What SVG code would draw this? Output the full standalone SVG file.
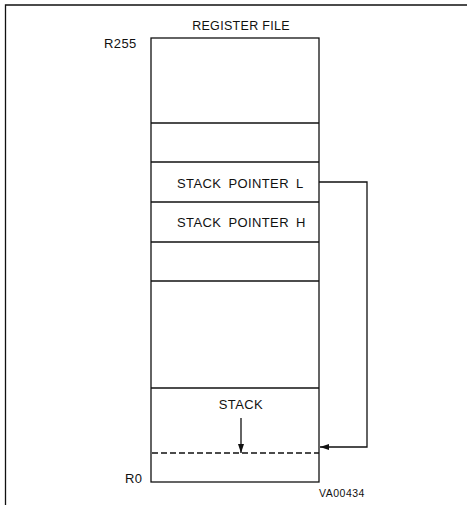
<svg xmlns="http://www.w3.org/2000/svg" width="467" height="505" viewBox="0 0 467 505">
<style>
text{font-family:"Liberation Sans",Arial,sans-serif;fill:#111;}
.lbl{font-size:13px;letter-spacing:0.4px;}
.sp{word-spacing:3px;}
.ln{stroke:#111;stroke-width:1.3;fill:none;}
</style>
<defs>
<marker id="ah" markerWidth="9" markerHeight="6" refX="9" refY="3" orient="auto" markerUnits="userSpaceOnUse">
<path d="M0,0 L9,3 L0,6 Z" fill="#111"/>
</marker>
</defs>
<rect width="467" height="505" fill="#fff"/>
<g id="frame">
<path class="ln" d="M5.5,505 V5 H467" stroke-width="1.6"/>
</g>
<g id="register-file">
<text x="241" y="30" text-anchor="middle" font-size="12.5" letter-spacing="0.3">REGISTER FILE</text>
<text class="lbl" x="104" y="48">R255</text>
<text class="lbl" x="125" y="483">R0</text>
<rect class="ln" x="151" y="38" width="168" height="444"/>
</g>
<g id="row-top"><path class="ln" d="M151,123 H319"/></g>
<g id="row-1"><path class="ln" d="M151,162 H319"/></g>
<g id="sp-l"><path class="ln" d="M151,202 H319"/><text class="lbl sp" x="177" y="188">STACK POINTER L</text></g>
<g id="sp-h"><path class="ln" d="M151,242 H319"/><text class="lbl sp" x="177" y="227">STACK POINTER H</text></g>
<g id="row-2"><path class="ln" d="M151,281 H319"/></g>
<g id="stack">
<path class="ln" d="M151,388 H319"/>
<text class="lbl" x="241" y="409" text-anchor="middle">STACK</text>
<path class="ln" d="M152,453 H319" stroke-dasharray="6,3"/>
</g>
<g id="connectors">
<path class="ln" d="M241,418 V453" marker-end="url(#ah)"/>
<path class="ln" d="M319,182 H367 V447 H320" marker-end="url(#ah)"/>
</g>
<text x="319" y="497" font-size="10.5" letter-spacing="0.5">VA00434</text>
</svg>
